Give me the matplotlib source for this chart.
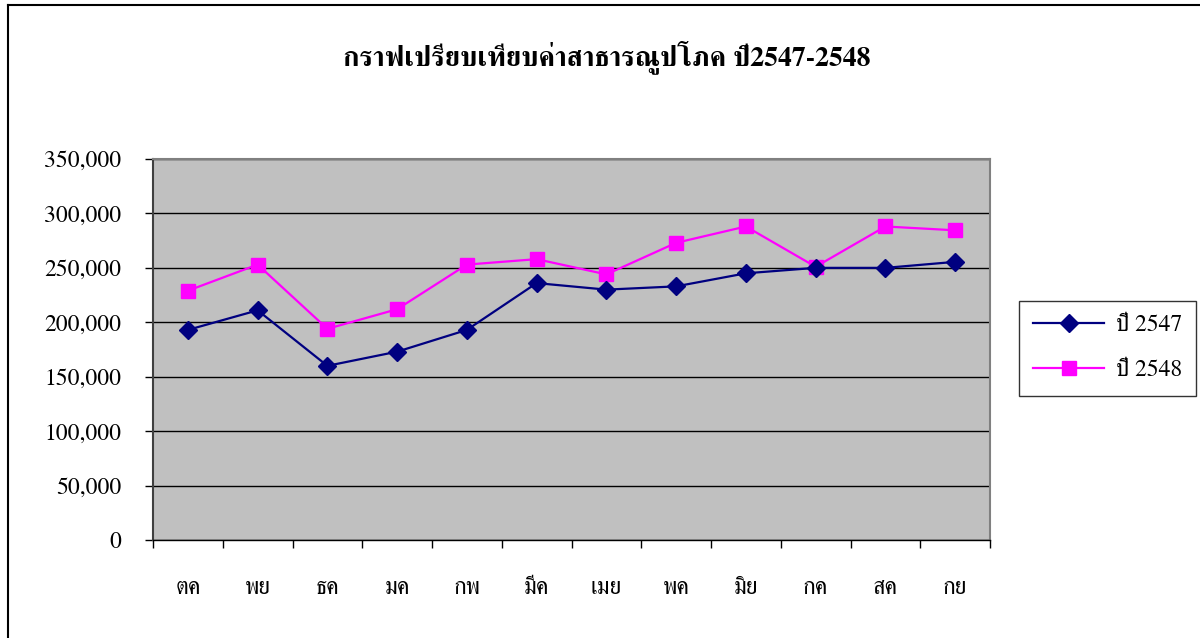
import matplotlib
matplotlib.use("Agg")
import matplotlib.pyplot as plt
from matplotlib.lines import Line2D
from matplotlib.ticker import FuncFormatter, MultipleLocator

plt.rcParams['font.family'] = ['FreeSerif', 'DejaVu Serif']

months = ['ตค', 'พย', 'ธค', 'มค', 'กพ', 'มีค', 'เมย', 'พค', 'มิย', 'กค', 'สค', 'กย']
y2547 = [193000, 211000, 160000, 173000, 193000, 236000, 230000, 233000, 245000, 250000, 250000, 255500]
y2548 = [229000, 253000, 194000, 212000, 253000, 258000, 244000, 273000, 288000, 251000, 288000, 284500]
labels = ['ปี 2547', 'ปี 2548']
title = 'กราฟเปรียบเทียบค่าสาธารณูปโภค ปี2547-2548'

fig = plt.figure(figsize=(12, 6.38), dpi=100)
ax = fig.add_axes([153 / 1200, 1 - 540 / 638, (990 - 153) / 1200, (540 - 159) / 638])
ax.set_facecolor('#c0c0c0')

x = range(len(months))
ax.plot(x, y2547, color='#000080', lw=1.6, marker='D', markersize=9.5, label=labels[0], zorder=4)
ax.plot(x, y2548, color='#ff00ff', lw=1.6, marker='s', markersize=10.5, label=labels[1], zorder=3)

ax.set_xlim(-0.5, len(months) - 0.5)
ax.set_ylim(0, 350000)
ax.yaxis.set_major_locator(MultipleLocator(50000))
ax.yaxis.set_major_formatter(FuncFormatter(lambda v, p: '{:,.0f}'.format(v)))
ax.grid(axis='y', color='black', lw=1)
ax.set_axisbelow(True)

# category ticks sit on the boundaries, labels in the middle
ax.set_xticks([i - 0.5 for i in range(len(months) + 1)])
ax.set_xticklabels([])
ax.set_xticks(list(x), minor=True)
ax.set_xticklabels(months, minor=True, fontsize=17)
ax.tick_params(axis='x', which='minor', length=0, pad=27)
ax.tick_params(axis='x', which='major', length=6, width=1, color='black', direction='out')
ax.tick_params(axis='y', length=6, width=1, labelsize=17, pad=17, direction='out')

for s in ['top', 'right']:
    ax.spines[s].set_color('#808080')
    ax.spines[s].set_linewidth(1.5)
ax.spines['left'].set_color('#404040')
ax.spines['left'].set_linewidth(1.5)
ax.spines['bottom'].set_color('black')
ax.spines['bottom'].set_linewidth(1)

fig.text(607 / 1200, 1 - 57 / 638, title, ha='center', va='center', fontsize=20, fontweight='bold')

leg = fig.legend(loc='center left', bbox_to_anchor=(1019 / 1200, 1 - 348 / 638), fontsize=17,
                 frameon=True, fancybox=False, edgecolor='black', handlelength=3.0,
                 labelspacing=1.0, borderpad=0.6, handletextpad=0.5, borderaxespad=0)
leg.get_frame().set_linewidth(1)

# outer chart border (top and left visible)
fig.add_artist(Line2D([8 / 1200, 1], [1 - 5 / 638, 1 - 5 / 638], color='black', lw=1.5, transform=fig.transFigure))
fig.add_artist(Line2D([8 / 1200, 8 / 1200], [0, 1 - 5 / 638], color='black', lw=1.5, transform=fig.transFigure))

fig.savefig('out.png', dpi=100)
